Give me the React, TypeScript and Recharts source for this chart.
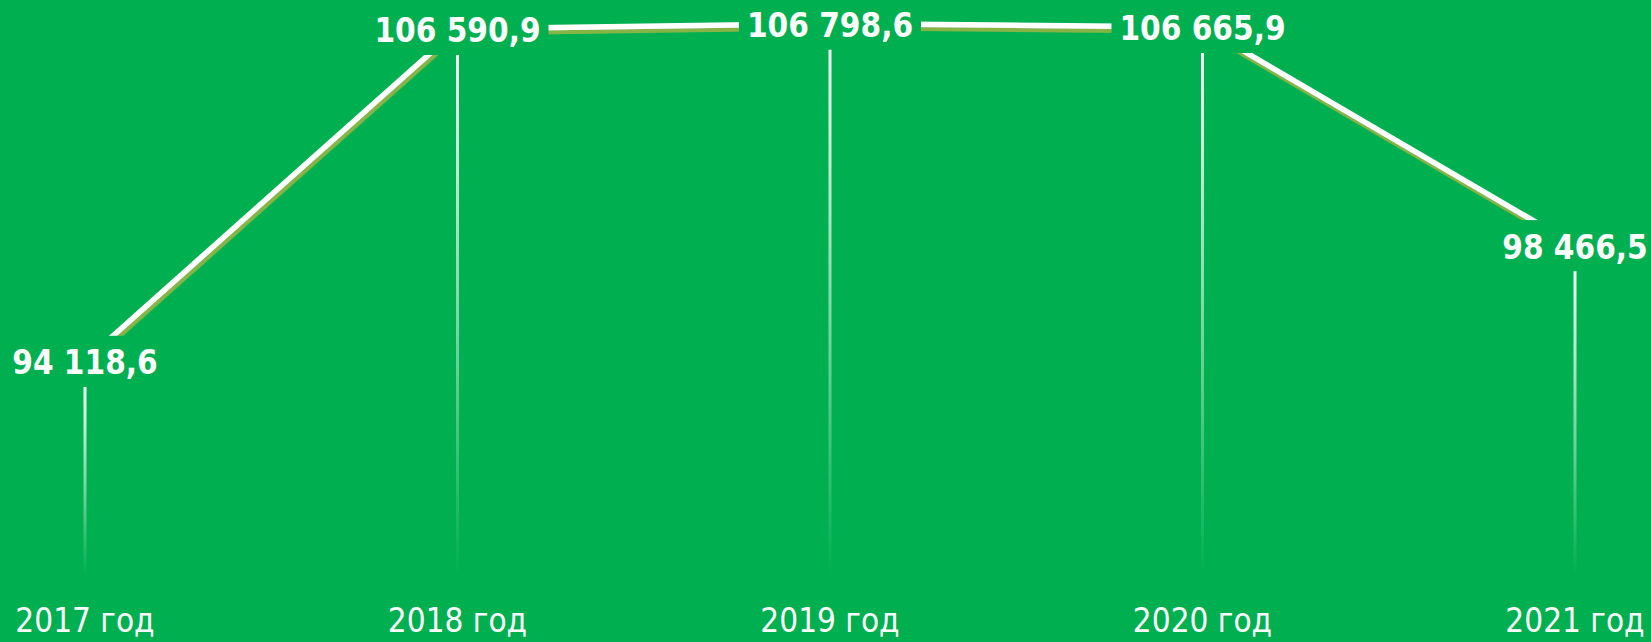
import React from 'react'
import { LineChart, Line, XAxis, YAxis } from 'recharts'

/* Динамика показателя 2017–2021, зелёный слайд */

const years = ['2017 год', '2018 год', '2019 год', '2020 год', '2021 год']
const values = [94118.6, 106590.9, 106798.6, 106665.9, 98466.5]

const data = years.map((year, i) => ({ year, value: values[i] }))

const W = 1651
const H = 642
const BG = '#00B050'
const SHADOW = '#86B545'
const X_AXIS_H = 68
const PLOT_BOTTOM = H - X_AXIS_H
const FONT = "'DejaVu Sans Condensed', 'DejaVu Sans', sans-serif"

// 106590.9 -> "106 590,9"
function fmt(v: number): string {
  const [int, dec] = v.toFixed(1).split('.')
  return int.replace(/\B(?=(\d{3})+(?!\d))/g, ' ') + ',' + dec
}

function DropLine(props: any) {
  const { cx, cy, index } = props
  if (cx == null || cy == null) return null
  const top = cy + 26
  return (
    <rect
      key={`drop-${index}`}
      x={cx - 1.5}
      y={top}
      width={3}
      height={Math.max(0, PLOT_BOTTOM - top)}
      fill="url(#dropFade)"
    />
  )
}

function ValueLabel(props: any) {
  const { x, y, value, index } = props
  if (x == null || y == null) return null
  const text = fmt(value)
  const w = text.length * 18 + 20
  return (
    <g key={`lbl-${index}`}>
      <rect x={x - w / 2} y={y - 25} width={w} height={51} fill={BG} />
      <text
        x={x}
        y={y + 2}
        textAnchor="middle"
        dominantBaseline="central"
        fill="#fff"
        fontFamily={FONT}
        fontWeight="bold"
        fontSize={33}
      >
        {text}
      </text>
    </g>
  )
}

function YearTick(props: any) {
  const { x, y, payload } = props
  return (
    <text
      x={x}
      y={y + 46}
      textAnchor="middle"
      dominantBaseline="central"
      fill="#fff"
      fontFamily={FONT}
      fontSize={33}
    >
      {payload.value}
    </text>
  )
}

export default function App() {
  return (
    <div style={{ position: 'fixed', left: 0, top: 0, width: W, height: H, background: BG }}>
      <LineChart width={W} height={H} data={data} margin={{ top: 16, right: 76, bottom: 0, left: 85 }}>
        <defs>
          <linearGradient id="dropFade" x1="0" y1="0" x2="0" y2="1">
            <stop offset="0%" stopColor="#fff" stopOpacity={0.95} />
            <stop offset="55%" stopColor="#fff" stopOpacity={0.45} />
            <stop offset="100%" stopColor="#fff" stopOpacity={0} />
          </linearGradient>
          <filter id="lineShadow" x="-5%" y="-20%" width="110%" height="140%">
            <feDropShadow dx={1.5} dy={4} stdDeviation={0.4} floodColor={SHADOW} floodOpacity={1} />
          </filter>
        </defs>
        <XAxis
          dataKey="year"
          axisLine={false}
          tickLine={false}
          tickSize={0}
          tickMargin={0}
          height={X_AXIS_H}
          interval={0}
          tick={<YearTick />}
        />
        <YAxis hide domain={[86102, 107079]} />
        {/* вертикальные линии-выноски */}
        <Line
          dataKey="value"
          stroke="none"
          dot={<DropLine />}
          activeDot={false}
          isAnimationActive={false}
        />
        <Line
          dataKey="value"
          stroke="#fff"
          strokeWidth={5.5}
          dot={false}
          activeDot={false}
          filter="url(#lineShadow)"
          label={<ValueLabel />}
          isAnimationActive={false}
        />
      </LineChart>
    </div>
  )
}
